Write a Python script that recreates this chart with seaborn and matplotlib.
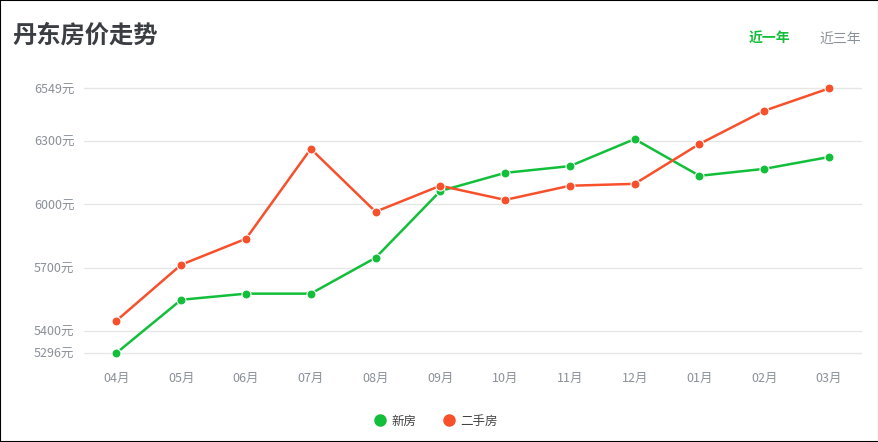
import matplotlib
matplotlib.use("Agg")
import matplotlib.pyplot as plt
from matplotlib.lines import Line2D
import pandas as pd
import seaborn as sns

months = ["04月", "05月", "06月", "07月", "08月", "09月",
          "10月", "11月", "12月", "01月", "02月", "03月"]
new_house = [5296, 5548, 5577, 5577, 5747, 6063, 6149, 6181, 6309, 6135, 6168, 6224]
second_hand = [5449, 5714, 5837, 6263, 5965, 6088, 6021, 6088, 6097, 6286, 6443, 6549]
y_ticks = [5296, 5400, 5700, 6000, 6300, 6549]
series_names = ["新房", "二手房"]

GREEN = "#12bf3a"
RED = "#f7502b"
GRAY = "#8a9099"

sns.set_theme(style="white")
plt.rcParams["font.family"] = ["Noto Sans CJK SC", "DejaVu Sans"]

df = pd.DataFrame({
    "month": months * 2,
    "price": new_house + second_hand,
    "type": [series_names[0]] * len(months) + [series_names[1]] * len(months),
})
df["x"] = list(range(len(months))) * 2

fig = plt.figure(figsize=(8.79, 4.42), dpi=100)
ax = fig.add_axes([0.0956, 0.2014, 0.8844, 0.5986])

palette = {series_names[0]: GREEN, series_names[1]: RED}
sns.lineplot(
    data=df, x="x", y="price", hue="type", palette=palette, ax=ax,
    marker="o", markersize=6.5, markeredgecolor="white", markeredgewidth=0.8,
    linewidth=1.8, legend=False,
)

ax.set_xlim(-0.5, len(months) - 0.5)
ax.set_ylim(y_ticks[0], y_ticks[-1])
ax.set_xticks(range(len(months)))
ax.set_xticklabels(months)
ax.set_yticks(y_ticks)
ax.set_yticklabels([f"{v}元" for v in y_ticks])
ax.set_xlabel("")
ax.set_ylabel("")
ax.grid(axis="y", color="#e6e6e6", linewidth=1)
ax.set_axisbelow(True)
for gl in ax.get_ygridlines():
    gl.set_clip_on(False)
for s in ax.spines.values():
    s.set_visible(False)
ax.tick_params(axis="x", length=0, pad=14, labelsize=9, labelcolor=GRAY)
ax.tick_params(axis="y", length=0, pad=7, labelsize=9, labelcolor=GRAY)
for line in ax.lines:
    line.set_clip_on(False)

fig.text(12 / 879, 1 - 36 / 442, "丹东房价走势", fontsize=17.5, fontweight="bold",
         color="#3a3d42", va="center", ha="left")
fig.text(769 / 879, 1 - 39 / 442, "近一年", fontsize=10, fontweight="bold",
         color=GREEN, va="center", ha="center")
fig.text(840 / 879, 1 - 39 / 442, "近三年", fontsize=10,
         color=GRAY, va="center", ha="center")

handles = [
    Line2D([], [], marker="o", linestyle="", markersize=8, color=GREEN),
    Line2D([], [], marker="o", linestyle="", markersize=8, color=RED),
]
fig.legend(handles, series_names, loc="center", bbox_to_anchor=(0.494, 1 - 421 / 442),
           ncol=2, frameon=False, fontsize=9, handletextpad=0.1, columnspacing=1.9,
           handlelength=1.5, labelcolor="#444444")

fig.patches.append(plt.Rectangle((0, 0), 1, 1, transform=fig.transFigure,
                                 fill=False, edgecolor="black", linewidth=1.5))

fig.savefig("out.png", dpi=100)
